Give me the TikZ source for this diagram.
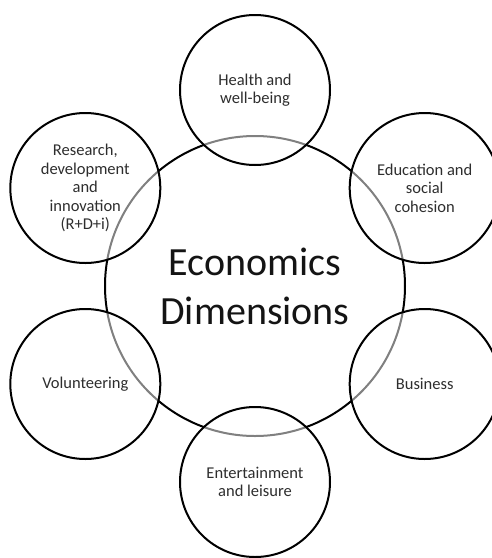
\documentclass[tikz,border=0pt]{standalone}
\usepackage{fontspec}
\setmainfont{Carlito}
\begin{document}
\begin{tikzpicture}[x=1pt,y=-1pt,
  hub/.style={circle,draw=black,line width=2pt,minimum size=300pt,inner sep=0pt,
    align=center,text=black!92,font=\fontsize{40}{49}\selectfont},
  dim/.style={circle,draw=black,line width=2pt,minimum size=150pt,inner sep=0pt,
    fill=white,fill opacity=0.5,text opacity=1,align=center,text=black!82,
    font=\fontsize{16.5}{18.5}\selectfont}]
  \useasboundingbox (0,0) rectangle (492,558);
  % central circle
  \node[hub] (econ) at (255,286) {Economics\\Dimensions};
  % surrounding dimensions, six around the centre
  \node[dim] (health) at (255,90) {Health and\\well-being};
  \node[dim] (educ) at (424.7,188) {Education and\\social\\cohesion};
  \node[dim] (business) at (424.7,384) {Business};
  \node[dim] (leisure) at (255,482) {Entertainment\\and leisure};
  \node[dim] (volunteer) at (85.3,384) {Volunteering};
  \node[dim] (research) at (85.3,188) {Research,\\development\\and\\innovation\\(R+D+i)};
\end{tikzpicture}
\end{document}
